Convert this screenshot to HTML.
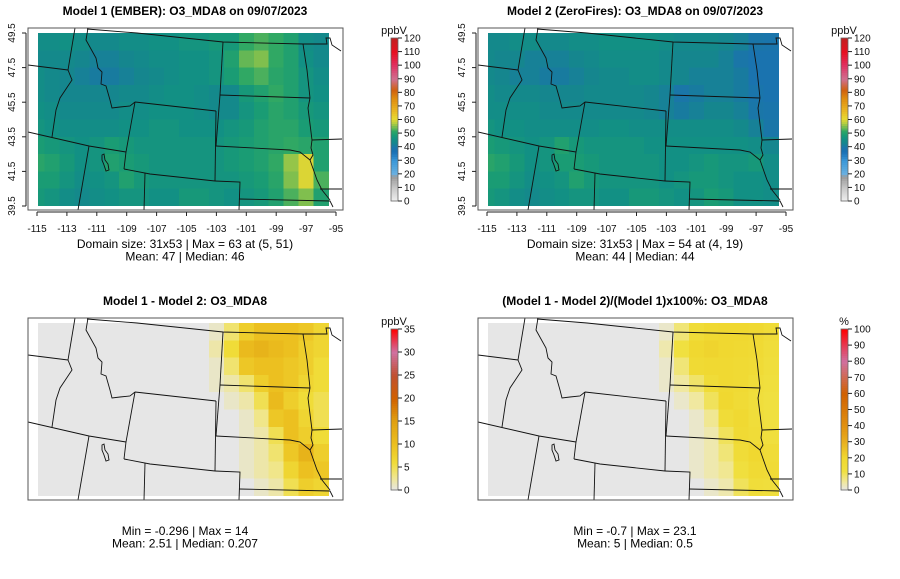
<!DOCTYPE html>
<html><head><meta charset="utf-8"><style>
html,body{margin:0;padding:0;background:#fff;}
svg{display:block;font-family:"Liberation Sans",sans-serif;}
</style></head><body>
<svg id="fig" width="900" height="579" viewBox="0 0 900 579"></svg>
<script>
const lonTicks=[-115,-113,-111,-109,-107,-105,-103,-101,-99,-97,-95];
const latTicks=[39.5,41.5,43.5,45.5,47.5,49.5];
const cbTicksOzone=[0,10,20,30,40,50,60,70,80,90,100,110,120];
const cbTicksDiff=[0,5,10,15,20,25,30,35];
const cbTicksPct=[0,10,20,30,40,50,60,70,80,90,100];
const gridLons=[-115,-114,-113,-112,-111,-110,-109,-108,-107,-106,-105,-104,-103,-102,-101,-100,-99,-98,-97,-96];
const gridLats=[49,48,47,46,45,44,43,42,41,40];
const model1=[
[45,45,46,45,44,44,45,45,46,46,47,47,48,48,52,53,52,50,45,44],
[44,44,44,43,42,42,43,44,45,45,46,46,47,50,54,55,52,50,46,44],
[45,44,43,42,41,41,42,43,44,45,46,46,47,49,52,53,51,50,47,45],
[45,44,43,43,43,43,44,44,45,46,46,45,44,44,48,50,52,50,47,46],
[46,45,44,44,44,44,45,45,46,46,46,45,44,44,47,49,51,50,48,47],
[47,46,45,45,45,45,46,46,47,47,46,46,46,47,48,50,51,51,49,48],
[49,48,47,46,47,49,48,47,47,47,47,47,47,48,49,50,51,52,51,50],
[51,50,48,46,47,50,49,48,47,47,47,47,47,48,49,50,52,56,60,50],
[49,49,47,45,46,47,50,48,47,47,47,47,47,47,48,49,51,55,60,53],
[48,47,45,44,45,46,47,47,46,46,48,48,47,46,47,48,50,53,55,50]];
const model2=[
[44,44,45,45,44,44,45,45,46,46,46,46,45,44,44,44,43,42,40,39],
[44,43,43,42,42,42,43,44,45,45,45,45,44,43,43,43,42,40,38,38],
[44,43,42,42,41,41,42,43,44,44,45,45,44,43,42,42,42,41,38,38],
[45,44,44,44,43,43,43,44,44,44,44,43,42,40,41,42,42,41,39,38],
[45,45,45,45,44,44,44,44,44,44,44,43,42,41,42,43,43,42,40,39],
[47,46,46,45,45,45,45,45,46,46,45,45,45,45,45,45,45,44,42,40],
[49,48,47,46,47,50,48,47,47,47,47,46,46,46,46,46,46,46,45,43],
[51,50,48,46,47,49,49,48,47,47,47,47,46,46,47,48,47,47,48,45],
[49,49,47,45,46,47,50,48,47,47,47,47,46,47,48,48,47,46,46,45],
[48,47,45,44,45,46,47,47,46,46,48,48,47,46,47,49,48,46,46,45]];
const diffVals=[
[0,0,0,0,0,0,0,0,0,0,0,0,1,4,8,10,10,10,9,7],
[0,0,0,0,0,0,0,0,0,0,0,0,2,6,11,12,11,10,8,7],
[0,0,0,0,0,0,0,0,0,0,0,0,1,4,9,10,10,9,8,6],
[0,0,0,0,0,0,0,0,0,0,0,0,1,2,4,8,10,9,7,6],
[0,0,0,0,0,0,0,0,0,0,0,0,0,1,2,5,11,8,6,5],
[0,0,0,0,0,0,0,0,0,0,0,0,0,0,1,3,9,10,7,5],
[0,0,0,0,0,0,0,0,0,0,0,0,0,0,1,2,5,10,8,6],
[0,0,0,0,0,0,0,0,0,0,0,0,0,0,1,2,4,9,12,8],
[0,0,0,0,0,0,0,0,0,0,0,0,0,0,1,2,3,7,10,9],
[0,0,0,0,0,0,0,0,0,0,0,0,0,0,0,1,2,5,8,7]];
const pctVals=[
[0,0,0,0,0,0,0,0,0,0,0,0,2,8,16,19,20,20,19,16],
[0,0,0,0,0,0,0,0,0,0,0,0,4,12,20,21,20,19,18,15],
[0,0,0,0,0,0,0,0,0,0,0,0,2,8,18,19,19,18,17,14],
[0,0,0,0,0,0,0,0,0,0,0,0,2,5,9,16,19,18,15,13],
[0,0,0,0,0,0,0,0,0,0,0,0,0,2,5,10,20,17,14,12],
[0,0,0,0,0,0,0,0,0,0,0,0,0,0,2,6,16,19,15,12],
[0,0,0,0,0,0,0,0,0,0,0,0,0,0,2,4,10,18,16,13],
[0,0,0,0,0,0,0,0,0,0,0,0,0,0,2,4,8,16,20,16],
[0,0,0,0,0,0,0,0,0,0,0,0,0,0,2,4,6,13,18,17],
[0,0,0,0,0,0,0,0,0,0,0,0,0,0,0,2,4,10,15,14]];

const NS="http://www.w3.org/2000/svg";
const svg=document.getElementById('fig');
function mk(tag,attrs,parent){const e=document.createElementNS(NS,tag);for(const k in attrs)e.setAttribute(k,attrs[k]);(parent||svg).appendChild(e);return e;}
function hex(c){return [parseInt(c.substr(1,2),16),parseInt(c.substr(3,2),16),parseInt(c.substr(5,2),16)];}
function colorFn(stops){return v=>{if(v<=stops[0][0])return stops[0][1];for(let i=1;i<stops.length;i++){if(v<=stops[i][0]){const a=stops[i-1],b=stops[i];const t=(v-a[0])/(b[0]-a[0]);const A=hex(a[1]),B=hex(b[1]);return 'rgb('+A.map((x,j)=>Math.round(x+(B[j]-x)*t)).join(',')+')';}}return stops[stops.length-1][1];};}
const ozoneCol=colorFn([[0,'#f0f0f0'],[10,'#c8c8c8'],[18,'#9a9a9a'],[20,'#6ab0e0'],[30,'#3a98d8'],[36,'#1a70b5'],[40,'#1a76a8'],[43,'#15868e'],[46,'#129084'],[49,'#1a9c74'],[52,'#30a864'],[55,'#80bf4e'],[58,'#c0d040'],[61,'#e8d830'],[68,'#e8b020'],[75,'#e09010'],[82,'#d06010'],[90,'#d07090'],[100,'#e03060'],[110,'#e81020'],[120,'#c02020']]);
const diffCol=colorFn([[0,'#e6e6e6'],[3,'#f0e68a'],[6,'#f0dc38'],[10,'#ecc020'],[15,'#e0a010'],[20,'#d06000'],[25,'#c05030'],[30,'#d070a0'],[35,'#ff0000']]);
const pctCol=colorFn([[0,'#e6e6e6'],[5,'#f0e8a0'],[12,'#f0e040'],[20,'#f0d830'],[30,'#e8b020'],[40,'#e09010'],[60,'#d06000'],[80,'#d070a0'],[100,'#ff0000']]);

const borders=[
"28,65 68,70","75,28 68,70 72,80 60,98 56,110 52,137",
"88,28 86,40 96,58 98,68 102,72 101,84 106,86 110,100 112,108 120,107 130,106 135,102",
"87,29 137,33 223,42 303,44 327,44 326,38 330,38 332,45 341,51",
"135,102 216,111","135,102 126,152 124,169","124,169 150,174 215,181","216,111 215,181",
"223,42 220,95","220,95 310,98","303,44 307,70 310,98","220,95 216,146",
"216,146 290,150 300,152 310,160","310,98 308,108 312,140 311,148 313,155 310,160",
"215,181 240,182 239,210","239,199 330,201 333,207","310,160 317,180 322,190 330,200",
"312,140 342,139","320,189 342,189","28,132 89,146 126,152","89,146 78,210","145,173 144,210"];
const lake="102,155 104,154 105,160 108,164 109,170 106,171 104,165 102,160";

function panel(name,ox,oy,title,data,col,cbTicks,cbMax,unit,stats,axes){
  const g=mk('g',{transform:'translate('+ox+','+oy+')'});
  
  
  const t=mk('text',{x:185,y:15,'text-anchor':'middle','font-size':12,'font-weight':'bold'},g);t.textContent=title;
  
  
  const xs=lon=>37+(lon+115)*14.95, ys=lat=>206-(lat-39.5)*17.3;
  const clip='clip-'+name;
  const cp=mk('clipPath',{id:clip},g);mk('rect',{x:38,y:33,width:295,height:173},cp);
  const cells=mk('g',{'clip-path':'url(#'+clip+')','shape-rendering':'crispEdges'},g);
  
  
  for(let r=0;r<gridLats.length;r++)for(let c=0;c<gridLons.length;c++){
    const x0=xs(gridLons[c]-0.5), y0=ys(gridLats[r]+0.5);
    const rc=mk('rect',{x:x0,y:y0,width:xs(gridLons[c]+0.5)-x0+0.5,height:ys(gridLats[r]-0.5)-y0+0.5,fill:col(data[r][c])},cells);
    
    
  }
  const bclip='bclip-'+name;
  const cp2=mk('clipPath',{id:bclip},g);mk('rect',{x:28,y:28,width:315,height:182},cp2);
  const bg=mk('g',{'clip-path':'url(#'+bclip+')',fill:'none',stroke:'#111','stroke-width':0.9},g);
  
  
  borders.forEach(p=>mk('polyline',{points:p},bg));
  mk('polygon',{points:lake},bg);
  const box=mk('rect',{x:28,y:28,width:315,height:182,fill:'none',stroke:'#555','stroke-width':1},g);
  
  
  if(axes){
    const ax=mk('g',{stroke:'#222','stroke-width':1},g);
    
    
    mk('line',{x1:xs(-115),x2:xs(-95),y1:212,y2:212},ax);
    lonTicks.forEach(l=>{mk('line',{x1:xs(l),x2:xs(l),y1:212,y2:216},ax);
      const tx=mk('text',{x:xs(l),y:232,'text-anchor':'middle','font-size':10,stroke:'none',fill:'#111'},ax);tx.textContent=l;});
    const ay=mk('g',{stroke:'#222','stroke-width':1},g);
    
    
    mk('line',{x1:26,x2:26,y1:ys(39.5),y2:ys(49.5)},ay);
    latTicks.forEach(l=>{mk('line',{x1:22,x2:26,y1:ys(l),y2:ys(l)},ay);
      const tx=mk('text',{x:0,y:0,transform:'translate(15,'+ys(l)+') rotate(-90)','text-anchor':'middle','font-size':10,stroke:'none',fill:'#111'},ay);tx.textContent=l;});
  }
  const sy=axes?248:245;
  stats.forEach((s,i)=>{const st=mk('text',{x:185,y:sy+i*12.5,'text-anchor':'middle','font-size':12},g);st.textContent=s;
    
    });
  const cb=mk('g',{},g);
  
  
  const top=axes?38:39, bot=axes?201:200;
  const cy=v=>bot-(v/cbMax)*(bot-top);
  const n=80;
  for(let i=0;i<n;i++){const v0=cbMax*i/n,v1=cbMax*(i+1)/n;
    mk('rect',{x:391,y:cy(v1),width:7,height:cy(v0)-cy(v1)+0.6,fill:col((v0+v1)/2),'shape-rendering':'crispEdges'},cb);}
  mk('rect',{x:391,y:top,width:7,height:bot-top,fill:'none',stroke:'#666','stroke-width':0.8},cb);
  cbTicks.forEach(v=>{mk('line',{x1:398,x2:402,y1:cy(v),y2:cy(v),stroke:'#222'},cb);
    const tx=mk('text',{x:404,y:cy(v)+3.5,'font-size':10,fill:'#111'},cb);tx.textContent=v;});
  const u=mk('text',{x:394,y:top-4,'text-anchor':'middle','font-size':11,fill:'#111'},cb);u.textContent=unit;
}
panel('panel-model1',0,0,'Model 1 (EMBER): O3_MDA8 on 09/07/2023',model1,ozoneCol,cbTicksOzone,120,'ppbV',['Domain size: 31x53 | Max = 63 at (5, 51)','Mean: 47 |  Median: 46'],true);
panel('panel-model2',450,0,'Model 2 (ZeroFires): O3_MDA8 on 09/07/2023',model2,ozoneCol,cbTicksOzone,120,'ppbV',['Domain size: 31x53 | Max = 54 at (4, 19)','Mean: 44 |  Median: 44'],true);
panel('panel-difference',0,290,'Model 1 - Model 2: O3_MDA8',diffVals,diffCol,cbTicksDiff,35,'ppbV',['Min = -0.296 | Max = 14','Mean: 2.51 |  Median: 0.207'],false);
panel('panel-percent-difference',450,290,'(Model 1 - Model 2)/(Model 1)x100%: O3_MDA8',pctVals,pctCol,cbTicksPct,100,'%',['Min = -0.7 | Max = 23.1','Mean: 5 |  Median: 0.5'],false);
</script>
</body></html>
